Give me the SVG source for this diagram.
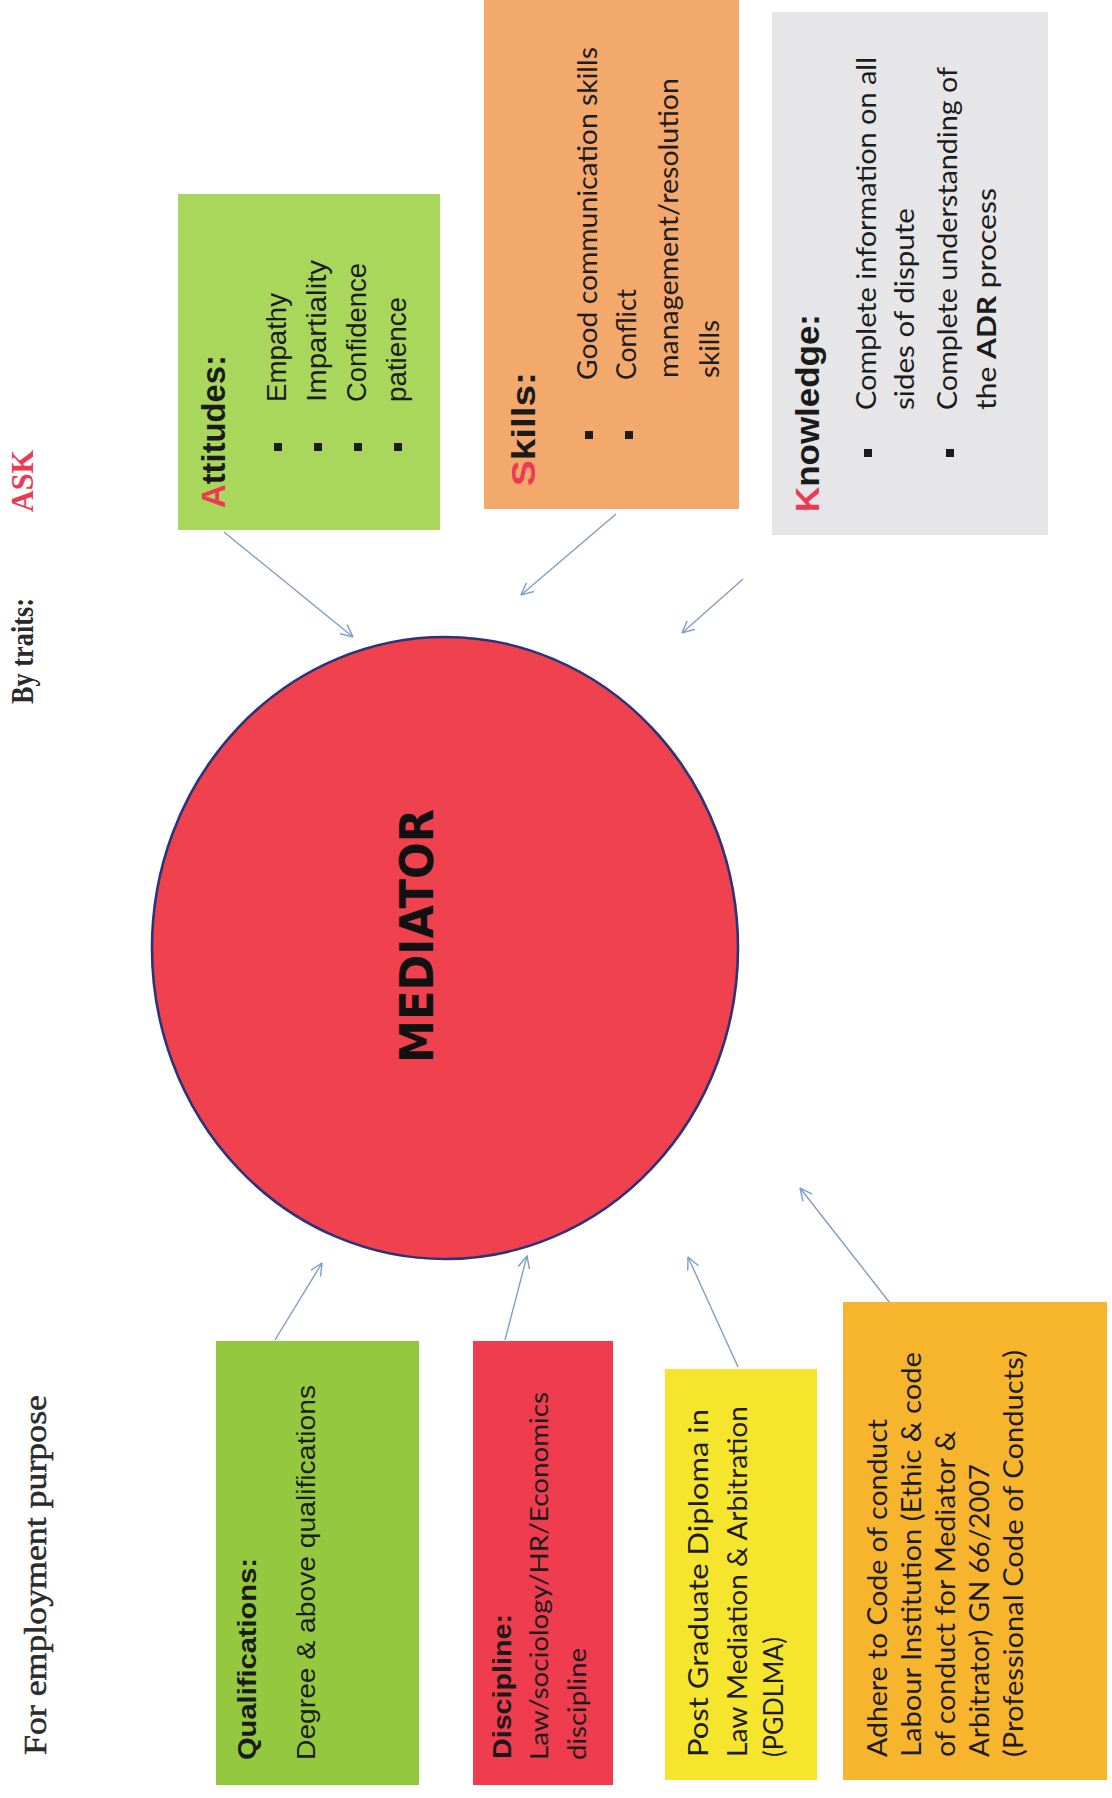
<svg xmlns="http://www.w3.org/2000/svg" width="1112" height="1798" viewBox="0 0 1112 1798">
<style>
.serif{font-family:"Liberation Serif","DejaVu Serif",serif;font-size:32px;fill:#2a2a2a}
.t{font-family:Lato,"Liberation Sans",sans-serif;font-size:27px;fill:#1c1c1c}
.a{font-family:"Liberation Sans",Arial,sans-serif;font-size:27px;fill:#1c1c1c}
.h{font-family:"Liberation Sans",Arial,sans-serif;font-weight:bold;font-size:34px;fill:#1a1a1a}
.red{fill:#ec3a56}
.b{font-weight:bold}
.bul{fill:#1c1c1c}
.conn{stroke:#7f9ec6;stroke-width:1.4;fill:none}
</style>
<defs>
<marker id="arr" viewBox="0 0 10 10" refX="9.5" refY="5" markerWidth="13" markerHeight="13" markerUnits="userSpaceOnUse" orient="auto">
<path d="M0,0.5 L9.5,5 L0,9.5" fill="none" stroke="#7f9ec6" stroke-width="1.1"/>
</marker>
</defs>
<rect width="1112" height="1798" fill="#ffffff"/>

<g id="title-employment">
<text class="serif" stroke="#2a2a2a" stroke-width="0.5" transform="translate(46,1755) rotate(-90)" textLength="360" lengthAdjust="spacingAndGlyphs">For employment purpose</text>
</g>
<g id="title-traits">
<text class="serif b" transform="translate(33,704) rotate(-90)" textLength="106" lengthAdjust="spacingAndGlyphs">By traits:</text>
<text class="serif b red" transform="translate(33,512) rotate(-90)" textLength="62" lengthAdjust="spacingAndGlyphs">ASK</text>
</g>

<g id="connectors">
<line class="conn" x1="224" y1="532" x2="353" y2="637" marker-end="url(#arr)"/>
<line class="conn" x1="616" y1="514" x2="521" y2="595" marker-end="url(#arr)"/>
<line class="conn" x1="743" y1="579" x2="682" y2="633" marker-end="url(#arr)"/>
<line class="conn" x1="275" y1="1340" x2="322" y2="1263" marker-end="url(#arr)"/>
<line class="conn" x1="505" y1="1340" x2="527" y2="1256" marker-end="url(#arr)"/>
<line class="conn" x1="738" y1="1367" x2="688" y2="1257" marker-end="url(#arr)"/>
<line class="conn" x1="890" y1="1303" x2="800" y2="1188" marker-end="url(#arr)"/>
</g>

<g id="mediator">
<ellipse cx="445" cy="948" rx="293" ry="311" fill="#f0414f" stroke="#2b3478" stroke-width="2.6"/>
<text transform="translate(433,1063) rotate(-90)" textLength="254" lengthAdjust="spacingAndGlyphs" style="font-family:'DejaVu Sans',sans-serif;font-weight:bold;font-size:46px;fill:#111">MEDIATOR</text>
</g>

<g id="attitudes">
<rect x="178" y="194" width="262" height="336" fill="#a9d75c"/>
<text class="h" style="font-size:33px" transform="translate(225,508) rotate(-90)" textLength="153" lengthAdjust="spacingAndGlyphs"><tspan class="red">A</tspan>ttitudes:</text>
<rect class="bul" x="274" y="443" width="8" height="8"/>
<rect class="bul" x="314" y="443" width="8" height="8"/>
<rect class="bul" x="354" y="443" width="8" height="8"/>
<rect class="bul" x="394" y="443" width="8" height="8"/>
<text class="a" transform="translate(286,402) rotate(-90)" textLength="109" lengthAdjust="spacingAndGlyphs">Empathy</text>
<text class="a" transform="translate(326,402) rotate(-90)" textLength="142" lengthAdjust="spacingAndGlyphs">Impartiality</text>
<text class="a" transform="translate(366,402) rotate(-90)" textLength="139" lengthAdjust="spacingAndGlyphs">Confidence</text>
<text class="a" transform="translate(406,402) rotate(-90)" textLength="105" lengthAdjust="spacingAndGlyphs">patience</text>
</g>

<g id="skills">
<rect x="484" y="0" width="255" height="509" fill="#f3a86c"/>
<text class="h" transform="translate(535,486) rotate(-90)" textLength="114" lengthAdjust="spacingAndGlyphs"><tspan class="red">S</tspan>kills:</text>
<rect class="bul" x="585" y="431" width="8" height="8"/>
<rect class="bul" x="625" y="431" width="8" height="8"/>
<text class="t" transform="translate(597,380) rotate(-90)" textLength="333" lengthAdjust="spacingAndGlyphs">Good communication skills</text>
<text class="t" transform="translate(636,380) rotate(-90)" textLength="91" lengthAdjust="spacingAndGlyphs">Conflict</text>
<text class="t" transform="translate(678,378) rotate(-90)" textLength="300" lengthAdjust="spacingAndGlyphs">management/resolution</text>
<text class="t" transform="translate(719,378) rotate(-90)" textLength="58" lengthAdjust="spacingAndGlyphs">skills</text>
</g>

<g id="knowledge">
<rect x="772" y="12" width="276" height="523" fill="#e6e6e8"/>
<text class="h" transform="translate(819,512) rotate(-90)" textLength="198" lengthAdjust="spacingAndGlyphs"><tspan class="red">K</tspan>nowledge:</text>
<rect class="bul" x="864" y="449" width="8" height="8"/>
<rect class="bul" x="946" y="449" width="8" height="8"/>
<text class="t" transform="translate(876,410) rotate(-90)" textLength="353" lengthAdjust="spacingAndGlyphs">Complete information on all</text>
<text class="t" transform="translate(914,410) rotate(-90)" textLength="202" lengthAdjust="spacingAndGlyphs">sides of dispute</text>
<text class="t" transform="translate(957,410) rotate(-90)" textLength="343" lengthAdjust="spacingAndGlyphs">Complete understanding of</text>
<text class="t" transform="translate(996,410) rotate(-90)" textLength="222" lengthAdjust="spacingAndGlyphs">the <tspan class="b">ADR</tspan> process</text>
</g>

<g id="qualifications">
<rect x="216" y="1341" width="203" height="444" fill="#94c83f"/>
<text class="h" style="font-size:26px" transform="translate(256,1760) rotate(-90)" textLength="202" lengthAdjust="spacingAndGlyphs">Qualifications:</text>
<text class="a" style="font-size:25px" transform="translate(315,1760) rotate(-90)" textLength="375" lengthAdjust="spacingAndGlyphs">Degree &amp; above qualifications</text>
</g>

<g id="discipline">
<rect x="473" y="1341" width="140" height="444" fill="#ef3c4e"/>
<text class="h" style="font-size:25px" transform="translate(511,1759) rotate(-90)" textLength="145" lengthAdjust="spacingAndGlyphs">Discipline:</text>
<text class="t" style="font-size:25px" transform="translate(548,1760) rotate(-90)" textLength="368" lengthAdjust="spacingAndGlyphs">Law/sociology/HR/Economics</text>
<text class="t" style="font-size:25px" transform="translate(586,1760) rotate(-90)" textLength="112" lengthAdjust="spacingAndGlyphs">discipline</text>
</g>

<g id="pgdlma">
<rect x="665" y="1369" width="152" height="411" fill="#f5e52c"/>
<text class="t" style="font-size:26px" transform="translate(708,1757) rotate(-90)" textLength="348" lengthAdjust="spacingAndGlyphs">Post Graduate Diploma in</text>
<text class="t" style="font-size:26px" transform="translate(747,1757) rotate(-90)" textLength="351" lengthAdjust="spacingAndGlyphs">Law Mediation &amp; Arbitration</text>
<text class="t" style="font-size:26px" transform="translate(783,1757) rotate(-90)" textLength="120" lengthAdjust="spacingAndGlyphs">(PGDLMA)</text>
</g>

<g id="code-of-conduct">
<rect x="843" y="1302" width="264" height="478" fill="#f7b52e"/>
<text class="t" style="font-size:26px" transform="translate(887,1757) rotate(-90)" textLength="338" lengthAdjust="spacingAndGlyphs">Adhere to Code of conduct</text>
<text class="t" style="font-size:26px" transform="translate(921,1757) rotate(-90)" textLength="405" lengthAdjust="spacingAndGlyphs">Labour Institution (Ethic &amp; code</text>
<text class="t" style="font-size:26px" transform="translate(955,1757) rotate(-90)" textLength="326" lengthAdjust="spacingAndGlyphs">of conduct for Mediator &amp;</text>
<text class="t" style="font-size:26px" transform="translate(989,1757) rotate(-90)" textLength="293" lengthAdjust="spacingAndGlyphs">Arbitrator) GN 66/2007</text>
<text class="t" style="font-size:26px" transform="translate(1023,1757) rotate(-90)" textLength="407" lengthAdjust="spacingAndGlyphs">(Professional Code of Conducts)</text>
</g>
</svg>
